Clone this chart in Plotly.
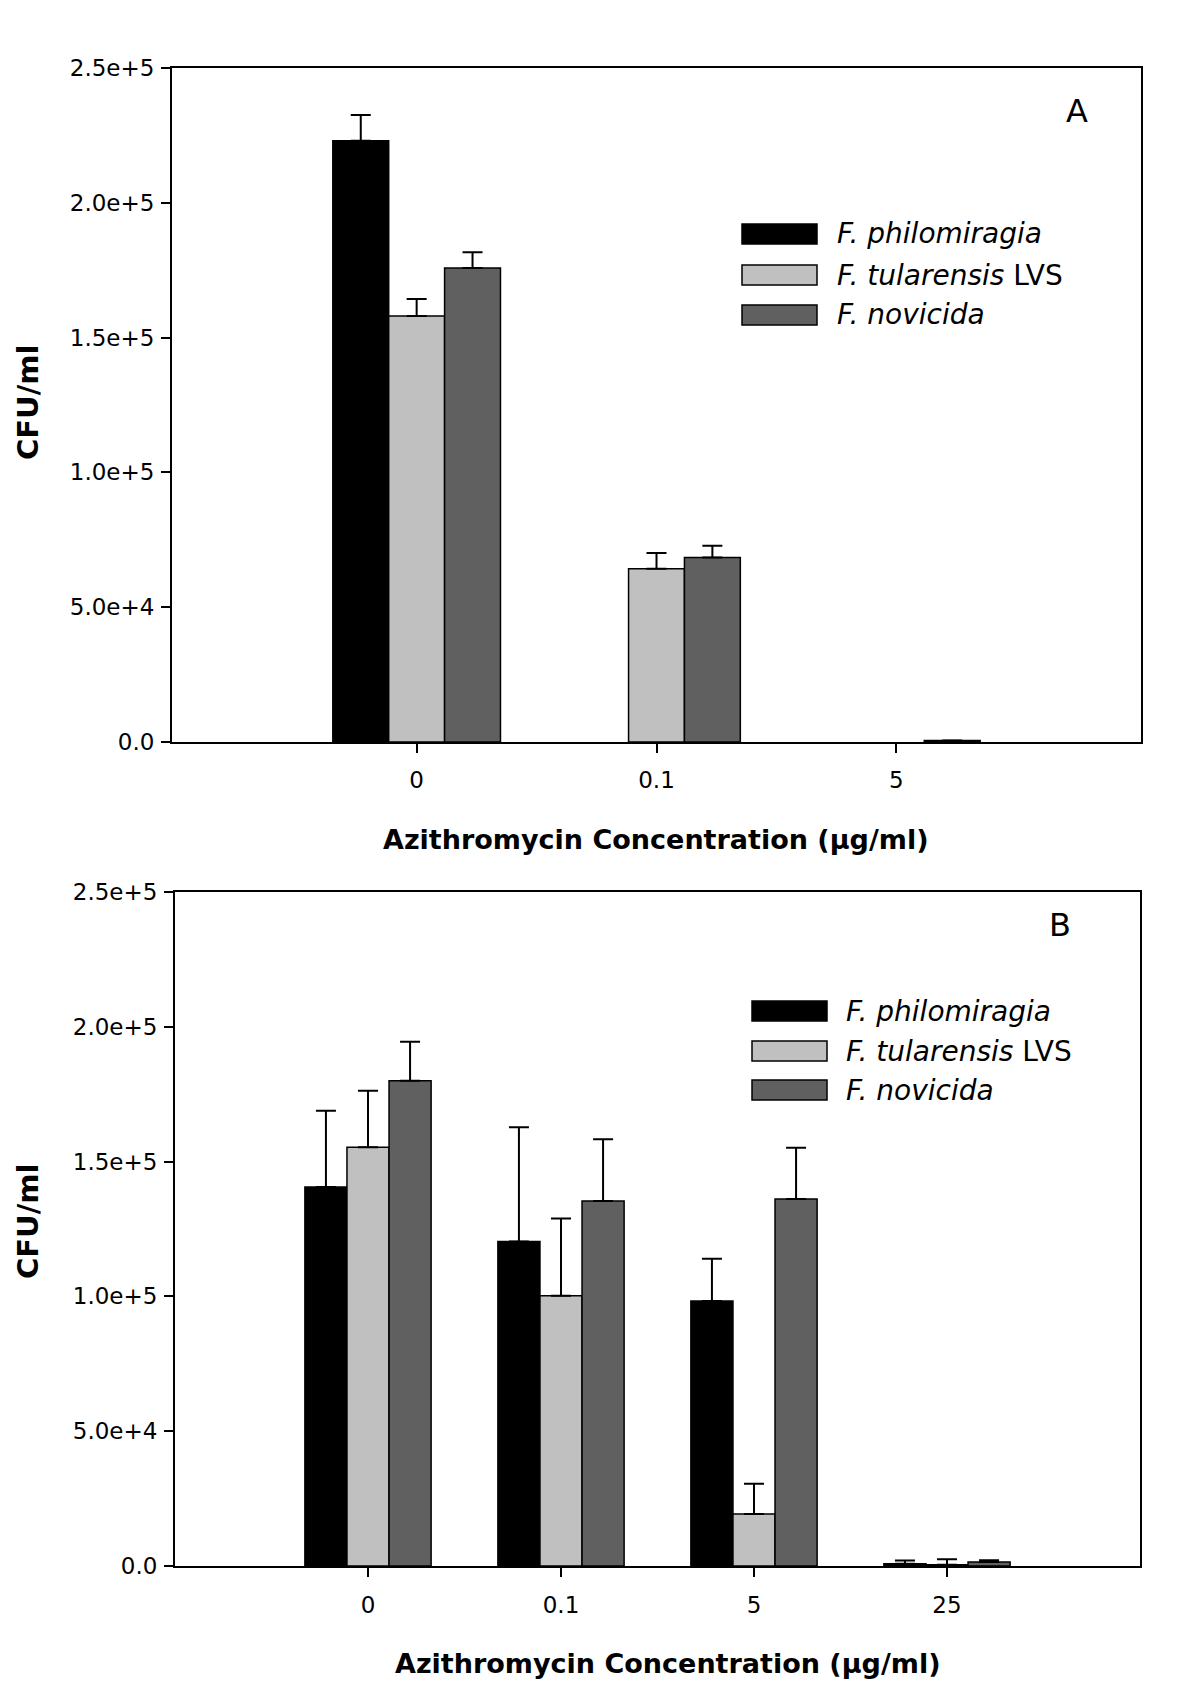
import plotly.graph_objects as go

W, H = 1200, 1704
PAGE_PAD = 8  # browser body margin pushes the figure this far right/down

# ---- data ----
strains = ["<i>F. philomiragia</i>", "<i>F. tularensis</i> LVS", "<i>F. novicida</i>"]
bar_colors = ["#000000", "#c0c0c0", "#606060"]

conc_a = ["0", "0.1", "5"]
phil_a = [223000, None, None]
phil_a_err = [9600, 0, 0]
tul_a = [158000, 64300, None]
tul_a_err = [6300, 5800, 0]
nov_a = [175800, 68400, 600]
nov_a_err = [5900, 4400, 0]

conc_b = ["0", "0.1", "5", "25"]
phil_b = [140600, 120400, 98300, 800]
phil_b_err = [28300, 42300, 15700, 1200]
tul_b = [155300, 100200, 19300, 500]
tul_b_err = [21000, 28700, 11200, 2000]
nov_b = [180000, 135400, 136100, 1500]
nov_b_err = [14500, 22900, 19000, 600]

y_ticks = [0, 50000, 100000, 150000, 200000, 250000]
y_ticktext = ["0.0", "5.0e+4", "1.0e+5", "1.5e+5", "2.0e+5", "2.5e+5"]

FONT = "DejaVu Sans"


def px(x):
    return (x - PAGE_PAD) / W


def py(y):
    return 1 - (y - PAGE_PAD) / H


fig = go.Figure()

panels = [
    ("x", "y", conc_a, [(phil_a, phil_a_err), (tul_a, tul_a_err), (nov_a, nov_a_err)], 0.233),
    ("x2", "y2", conc_b, [(phil_b, phil_b_err), (tul_b, tul_b_err), (nov_b, nov_b_err)], 0.218),
]

for xa, ya, cats, series, bw in panels:
    for i, (vals, errs) in enumerate(series):
        fig.add_trace(go.Bar(
            x=cats, y=vals,
            xaxis=xa, yaxis=ya,
            width=bw, offset=(i - 1.5) * bw,
            marker=dict(color=bar_colors[i], line=dict(color="black", width=1.5)),
            error_y=dict(type="data", symmetric=False, array=errs,
                         arrayminus=[0] * len(errs), color="black",
                         thickness=2, width=10),
            showlegend=False,
        ))

axis_common = dict(showline=True, mirror=True, linecolor="black", linewidth=2,
                   ticks="outside", ticklen=9, tickwidth=2, tickcolor="black",
                   showgrid=False, zeroline=False, automargin=False,
                   tickfont=dict(family=FONT, size=23, color="black"))

fig.update_layout(
    width=W, height=H,
    margin=dict(l=0, r=0, t=0, b=0, pad=0),
    paper_bgcolor="white", plot_bgcolor="white",
    barmode="overlay",
    showlegend=False,
    font=dict(family=FONT, color="black"),
    xaxis=dict(domain=[px(172), px(1141)], anchor="y", type="category",
               range=[-1.02, 3.02], ticklabelstandoff=7, **axis_common),
    yaxis=dict(domain=[py(742), py(68)], anchor="x", range=[0, 250000],
               tickvals=y_ticks, ticktext=y_ticktext, ticklabelstandoff=2, **axis_common),
    xaxis2=dict(domain=[px(175), px(1140)], anchor="y2", type="category",
                range=[-1.0, 4.0], ticklabelstandoff=8, **axis_common),
    yaxis2=dict(domain=[py(1566), py(892)], anchor="x2", range=[0, 250000],
                tickvals=y_ticks, ticktext=y_ticktext, ticklabelstandoff=2, **axis_common),
)


def note(x, y, text, size, **kw):
    d = dict(xref="paper", yref="paper", x=px(x), y=py(y), showarrow=False,
             xanchor="center", yanchor="middle", text=text, font=dict(size=size))
    d.update(kw)
    return d


# legends drawn as wide swatches, as in the original figure
shapes = []
annotations = []
legend_pos = [(742, 817, 835, [234, 275, 315]), (752, 827, 844, [1011, 1051, 1090])]
for sx0, sx1, tx, rows in legend_pos:
    for i, yc in enumerate(rows):
        shapes.append(dict(type="rect", xref="paper", yref="paper",
                           x0=px(sx0), x1=px(sx1), y0=py(yc + 10), y1=py(yc - 10),
                           fillcolor=bar_colors[i], line=dict(color="black", width=1.5)))
        annotations.append(note(tx, yc, strains[i], 28, xanchor="left"))

# panel letters
annotations.append(note(1077, 111, "A", 32))
annotations.append(note(1060, 925, "B", 32))

# axis titles
for xc, yc in [(656, 840), (668, 1663)]:
    annotations.append(note(xc, yc, "<b>Azithromycin Concentration (µg/ml)</b>", 27))
for yc in [403, 1222]:
    annotations.append(note(28, yc, "<b>CFU/ml</b>", 29, textangle=-90))

fig.update_layout(shapes=shapes, annotations=annotations)

fig.write_html("out.html")
